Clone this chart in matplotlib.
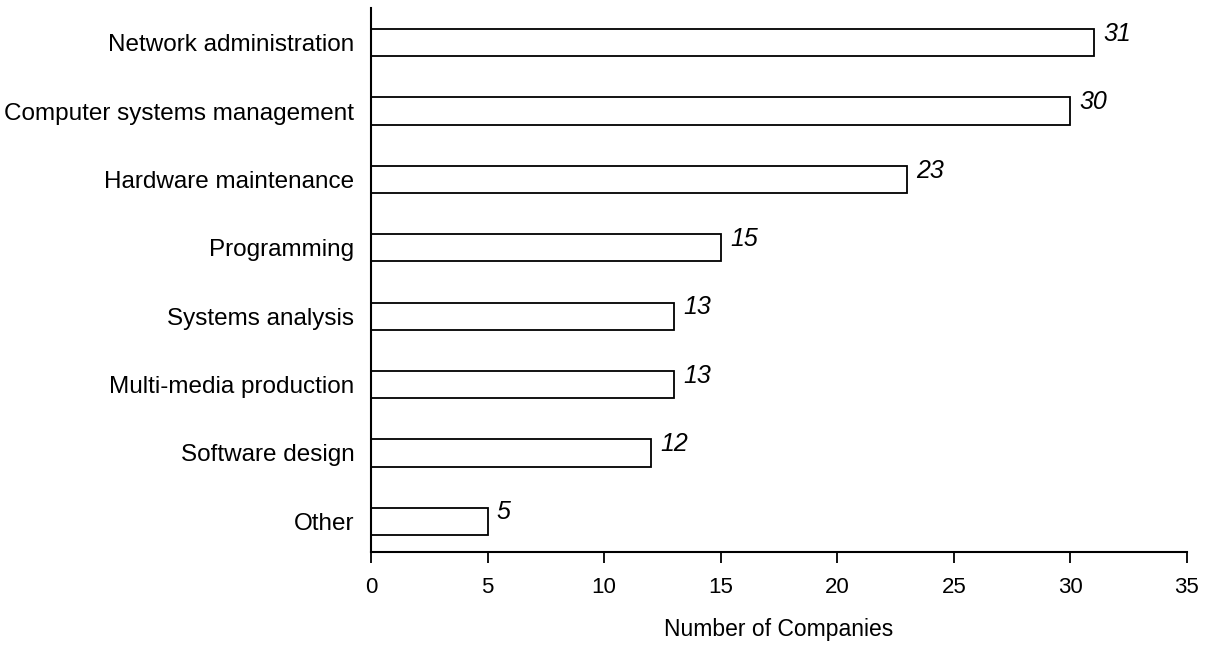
import numpy as np
import matplotlib
matplotlib.use("Agg")
import matplotlib.pyplot as plt

categories = ["Network administration", "Computer systems management", "Hardware maintenance",
              "Programming", "Systems analysis", "Multi-media production", "Software design", "Other"]
companies = [31, 30, 23, 15, 13, 13, 12, 5]

plt.rcParams['font.family'] = ['Liberation Sans', 'DejaVu Sans']

fig = plt.figure(figsize=(12.06, 6.48), dpi=100)
ax = fig.add_axes([0.3076, 0.148, 0.6766, 0.840])

pos = np.arange(len(categories))[::-1]
ax.barh(pos, companies, height=0.4, color='white', edgecolor='black', linewidth=1.3)

# value labels, italic, just right of each bar
for p, v in zip(pos, companies):
    ax.text(v + 0.4, p + 0.13, str(v), fontsize=18, style='italic', va='center', ha='left')

ax.set_xlim(0, 35)
ax.set_ylim(-0.45, 7.51)
ax.set_xticks(range(0, 36, 5))
ax.set_yticks(pos)
ax.set_yticklabels(categories, fontsize=17.5)
ax.tick_params(axis='y', length=0, pad=12)
ax.tick_params(axis='x', length=8, width=1.3, direction='out', labelsize=16, pad=10)
ax.set_xlabel("Number of Companies", fontsize=16.5, labelpad=14)

for s in ['top', 'right']:
    ax.spines[s].set_visible(False)
for s in ['left', 'bottom']:
    ax.spines[s].set_linewidth(1.5)

fig.savefig("out.png", dpi=100)
